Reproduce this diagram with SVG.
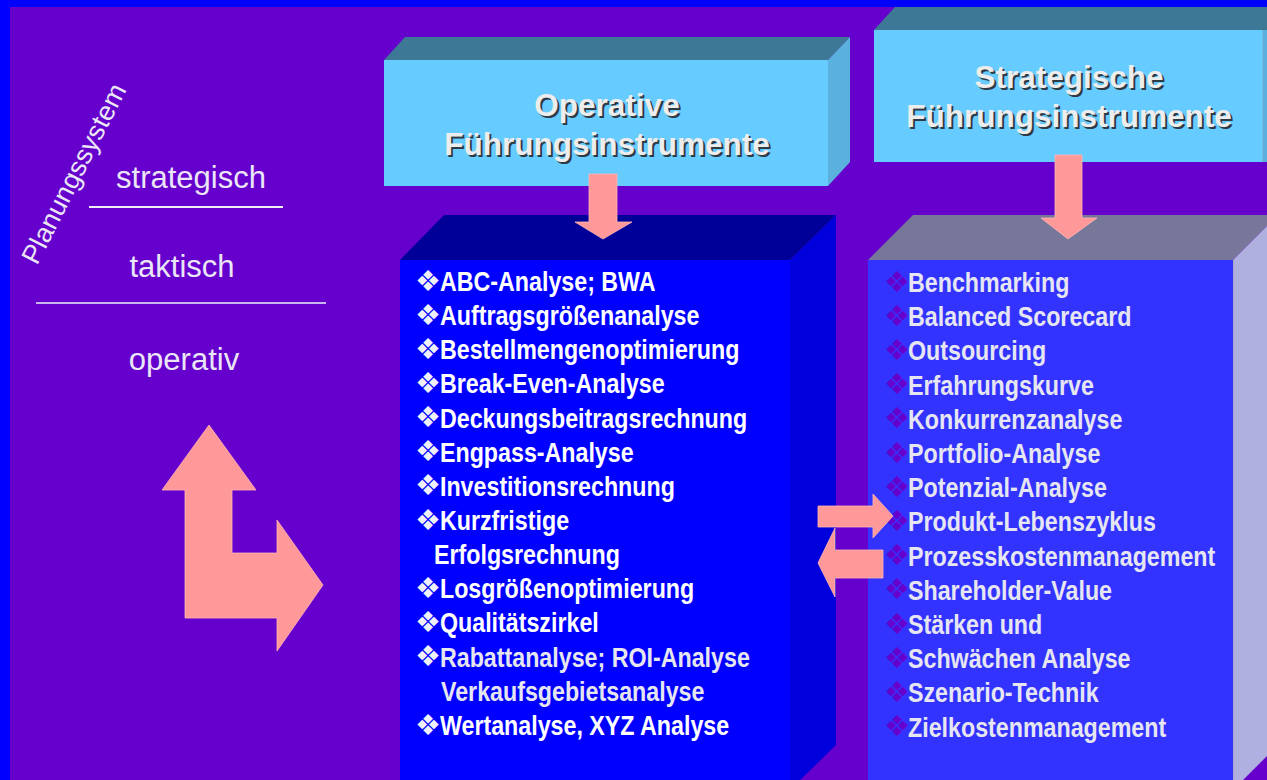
<svg xmlns="http://www.w3.org/2000/svg" width="1267" height="780" viewBox="0 0 1267 780">
  <style>
    .lbl { font-family: "Liberation Sans", Arial, sans-serif; fill: #EAE6F6; font-size: 31px; }
    .lbl-rot { font-size: 27px; }
    .hdr { font-family: "Liberation Sans", Arial, sans-serif; font-weight: bold; font-size: 31.5px; text-anchor: middle; }
    .hdr-sh { fill: #2E3A44; }
    .hdr-tx { fill: #EDEDED; }
    .item { font-family: "Liberation Sans", Arial, sans-serif; font-weight: bold; font-size: 28px; }
    .op { fill: #FFFFFF; }
    .op2 { fill: #E6E6F0; }
    .st { fill: #E6E6F2; }
    .bul { font-family: "DejaVu Sans", sans-serif; font-size: 29px; }
    .bul-op { fill: #F0F0F8; }
    .bul-st { fill: #6600CC; }
    .arrow { fill: #FF9999; stroke: #FFB4B4; stroke-width: 0.8; }
  </style>

  <!-- background and frame -->
  <rect x="0" y="0" width="1267" height="780" fill="#6600CC"/>
  <rect x="0" y="0" width="1267" height="7" fill="#0000FF"/>
  <rect x="0" y="0" width="10" height="780" fill="#0000FF"/>

  <!-- planning levels -->
  <g id="planungssystem">
    <text class="lbl lbl-rot" transform="translate(37,266) rotate(-63)">Planungssystem</text>
    <text class="lbl" x="191" y="188" text-anchor="middle">strategisch</text>
    <line x1="89" y1="207" x2="283" y2="207" stroke="#F0EEF8" stroke-width="2"/>
    <text class="lbl" x="182" y="277" text-anchor="middle">taktisch</text>
    <line x1="36" y1="303" x2="326" y2="303" stroke="#C8B4F0" stroke-width="2"/>
    <text class="lbl" x="184" y="370" text-anchor="middle">operativ</text>
  </g>

  <!-- header: operative -->
  <g id="hdr-operativ">
    <polygon points="384,60 405,37 850,37 828,60" fill="#3D7896"/>
    <polygon points="828,60 850,37 850,162 828,186" fill="#5BB1DD"/>
    <rect x="384" y="60" width="444" height="126" fill="#66CCFF"/>
    <text class="hdr hdr-sh" x="609" y="118">Operative</text>
    <text class="hdr hdr-sh" x="609" y="157">Führungsinstrumente</text>
    <text class="hdr hdr-tx" x="607" y="116">Operative</text>
    <text class="hdr hdr-tx" x="607" y="155">Führungsinstrumente</text>
  </g>

  <!-- header: strategic -->
  <g id="hdr-strategisch">
    <polygon points="874,30 895,7 1267,7 1267,30" fill="#3D7896"/>
    <rect x="1263" y="30" width="4" height="132" fill="#5BB1DD"/>
    <rect x="874" y="30" width="389" height="132" fill="#66CCFF"/>
    <line x1="1263" y1="30" x2="1263" y2="162" stroke="#8899AA" stroke-width="1" stroke-dasharray="1,1"/>
    <text class="hdr hdr-sh" x="1071" y="90">Strategische</text>
    <text class="hdr hdr-sh" x="1071" y="129">Führungsinstrumente</text>
    <text class="hdr hdr-tx" x="1069" y="88">Strategische</text>
    <text class="hdr hdr-tx" x="1069" y="127">Führungsinstrumente</text>
  </g>

  <!-- operative instrument list -->
  <g id="list-operativ">
    <polygon points="400,260 444,215 836,215 790,260" fill="#000099"/>
    <polygon points="790,260 836,215 836,745 790,790" fill="#0000DD"/>
    <rect x="400" y="260" width="390" height="530" fill="#0000FF"/>
    <g class="bul bul-op">
      <text x="415" y="290.5">❖</text>
      <text x="415" y="324.7">❖</text>
      <text x="415" y="358.8">❖</text>
      <text x="415" y="393">❖</text>
      <text x="415" y="427.1">❖</text>
      <text x="415" y="461.3">❖</text>
      <text x="415" y="495.4">❖</text>
      <text x="415" y="529.6">❖</text>
      <text x="415" y="597.9">❖</text>
      <text x="415" y="632">❖</text>
      <text x="415" y="666.2">❖</text>
      <text x="415" y="734.5">❖</text>
    </g>
    <g class="item op" transform="scale(0.83 1)">
      <text x="530.1" y="291">ABC-Analyse; BWA</text>
      <text x="530.1" y="325.2">Auftragsgrößenanalyse</text>
      <text x="530.1" y="359.3">Bestellmengenoptimierung</text>
      <text x="530.1" y="393.5">Break-Even-Analyse</text>
      <text x="530.1" y="427.6">Deckungsbeitragsrechnung</text>
      <text x="530.1" y="461.8">Engpass-Analyse</text>
      <text x="530.1" y="495.9">Investitionsrechnung</text>
      <text x="530.1" y="530.1">Kurzfristige</text>
      <text x="522.9" y="564.2">Erfolgsrechnung</text>
      <text x="530.1" y="598.4">Losgrößenoptimierung</text>
      <text x="530.1" y="632.5">Qualitätszirkel</text>
      <text class="op2" x="530.1" y="666.7">Rabattanalyse; ROI-Analyse</text>
      <text class="op2" x="531.3" y="700.8">Verkaufsgebietsanalyse</text>
      <text x="530.1" y="735">Wertanalyse, XYZ Analyse</text>
    </g>
  </g>

  <!-- strategic instrument list -->
  <g id="list-strategisch">
    <polygon points="868,260 913,215 1278,215 1233,260" fill="#777799"/>
    <polygon points="1233,260 1278,215 1278,745 1233,790" fill="#B0B0E0"/>
    <rect x="868" y="260" width="365" height="530" fill="#3333FF"/>
    <line x1="1233.5" y1="260" x2="1233.5" y2="790" stroke="#9999AA" stroke-width="1" stroke-dasharray="1,1"/>
    <g class="bul bul-st">
      <text x="884" y="291.5">❖</text>
      <text x="884" y="325.7">❖</text>
      <text x="884" y="359.9">❖</text>
      <text x="884" y="394.1">❖</text>
      <text x="884" y="428.3">❖</text>
      <text x="884" y="462.5">❖</text>
      <text x="884" y="496.7">❖</text>
      <text x="884" y="530.9">❖</text>
      <text x="884" y="565.1">❖</text>
      <text x="884" y="599.3">❖</text>
      <text x="884" y="633.5">❖</text>
      <text x="884" y="667.7">❖</text>
      <text x="884" y="701.9">❖</text>
      <text x="884" y="736.1">❖</text>
    </g>
    <g class="item st" transform="scale(0.83 1)">
      <text x="1094" y="292">Benchmarking</text>
      <text x="1094" y="326.2">Balanced Scorecard</text>
      <text x="1094" y="360.4">Outsourcing</text>
      <text x="1094" y="394.6">Erfahrungskurve</text>
      <text x="1094" y="428.8">Konkurrenzanalyse</text>
      <text x="1094" y="463">Portfolio-Analyse</text>
      <text x="1094" y="497.2">Potenzial-Analyse</text>
      <text x="1094" y="531.4">Produkt-Lebenszyklus</text>
      <text x="1094" y="565.6">Prozesskostenmanagement</text>
      <text x="1094" y="599.8">Shareholder-Value</text>
      <text x="1094" y="634">Stärken und</text>
      <text x="1094" y="668.2">Schwächen Analyse</text>
      <text x="1094" y="702.4">Szenario-Technik</text>
      <text x="1094" y="736.6">Zielkostenmanagement</text>
    </g>
  </g>

  <!-- block arrows -->
  <g id="connectors">
    <polygon class="arrow" points="589,174 617,174 617,222 632,222 603,239 575,222 589,222"/>
    <polygon class="arrow" points="1055,155 1082,155 1082,218 1097,218 1068,239 1041,218 1055,218"/>
    <polygon class="arrow" points="818,506 873,506 873,494 893,516 873,538 873,527 818,527"/>
    <polygon class="arrow" points="883,550 835,550 835,528 818,563 835,597 835,578 883,578"/>
    <polygon class="arrow" points="209,425 256,490 232,490 232,553 277,553 277,520 323,585 277,651 277,618 185,618 185,490 162,490"/>
  </g>
</svg>
